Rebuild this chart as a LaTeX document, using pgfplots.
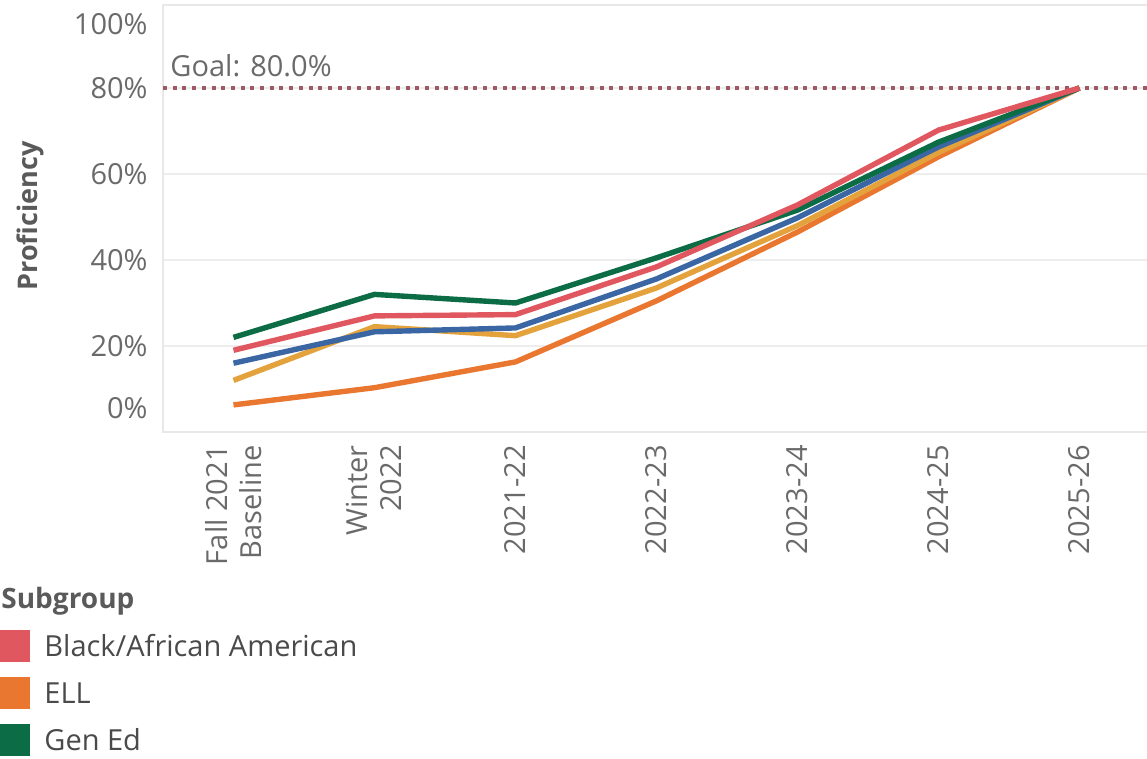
\documentclass[border=0pt]{standalone}
\usepackage{pgfplots}
\pgfplotsset{compat=1.18}
\usepackage{fontspec}
\setmainfont{Open Sans}
\definecolor{cRed}{HTML}{E0575F}
\definecolor{cOrange}{HTML}{E9772F}
\definecolor{cGreen}{HTML}{0B6C45}
\definecolor{cBlue}{HTML}{3A67A4}
\definecolor{cGold}{HTML}{E3A23B}
\definecolor{cGoal}{HTML}{9C5A66}
\definecolor{lab}{HTML}{6A6A6A}
\definecolor{dark}{HTML}{4A4A4A}
\definecolor{head}{HTML}{5A5A5A}
\begin{document}
\begin{tikzpicture}
\begin{axis}[
  at={(81.5pt,-216pt)}, anchor=south west,
  scale only axis, width=498.5pt, height=213.5pt,
  xmin=-0.5, xmax=6.571, ymin=0, ymax=99.3,
  axis line style={draw=black!9, line width=1pt},
  ymajorgrids, grid style={draw=black!7, line width=0.8pt},
  ytick={20,40,60,80}, yticklabels={20\%,40\%,60\%,80\%},
  extra y ticks={5.58,94.9}, extra y tick labels={0\%,100\%},
  extra y tick style={grid=none},
  ytick style={draw=none},
  yticklabel style={inner sep=0pt, anchor=east},
  yticklabel shift=7.5pt,
  xtick={0,...,6},
  xticklabels={{Fall 2021\\Baseline},{Winter\\2022},2021-22,2022-23,2023-24,2024-25,2025-26},
  xtick style={draw=none},
  xticklabel style={rotate=90, anchor=east, align=right, inner sep=0pt},
  xticklabel shift=6.5pt,
  extra x ticks={-0.5,0.5,1.5,2.5,3.5,4.5,5.5},
  extra x tick labels={},
  extra x tick style={tick align=outside, major tick length=4pt, tick style={draw=black!10, line width=0.8pt}},
  tick label style={font=\fontsize{14.5}{17}\selectfont, text=lab},
]
\addplot[cGoal, line width=2pt, dash pattern=on 2pt off 2.85pt] coordinates {(-0.5,80) (6.571,80)};
\addplot[cOrange, line width=2.7pt, line join=round] coordinates {(0,6.3) (1,10.3) (2,16.3) (3,30.5) (4,46.5) (5,64) (6,80)};
\addplot[cGold, line width=2.7pt, line join=round] coordinates {(0,12) (1,24.5) (2,22.4) (3,33.5) (4,48) (5,65) (6,80)};
\addplot[cBlue, line width=2.7pt, line join=round] coordinates {(0,16) (1,23.3) (2,24.2) (3,35.6) (4,49.8) (5,66.3) (6,80)};
\addplot[cGreen, line width=2.7pt, line join=round] coordinates {(0,22) (1,32) (2,30) (3,40.5) (4,51.6) (5,67.4) (6,80)};
\addplot[cRed, line width=2.7pt, line join=round] coordinates {(0,19) (1,27) (2,27.3) (3,38.4) (4,52.8) (5,70.2) (6,80)};
\node[anchor=base west, inner sep=0pt, font=\fontsize{14.5}{17}\selectfont, text=lab] at (axis cs:-0.45,82.6) {Goal: 80.0\%};
\end{axis}
\node[rotate=90, inner sep=0pt, font=\fontsize{13.5}{16}\selectfont\bfseries, text=head] at (15pt,-108pt) {Proficiency};
\node[anchor=base west, inner sep=0pt, font=\fontsize{14}{17}\selectfont\bfseries, text=head] at (0.5pt,-304pt) {Subgroup};
\fill[cRed] (0pt,-315pt) rectangle (15pt,-331pt);
\fill[cOrange] (0pt,-338.5pt) rectangle (15pt,-354.5pt);
\fill[cGreen] (0pt,-362pt) rectangle (15pt,-378pt);
\node[anchor=base west, inner sep=0pt, font=\fontsize{14.5}{17}\selectfont, text=dark] at (22pt,-328pt) {Black/African American};
\node[anchor=base west, inner sep=0pt, font=\fontsize{14.5}{17}\selectfont, text=dark] at (22pt,-351.5pt) {ELL};
\node[anchor=base west, inner sep=0pt, font=\fontsize{14.5}{17}\selectfont, text=dark] at (22pt,-375pt) {Gen Ed};
\pgfresetboundingbox
\path[use as bounding box] (0,0) rectangle (573.5pt,-379.5pt);
\end{tikzpicture}
\end{document}
